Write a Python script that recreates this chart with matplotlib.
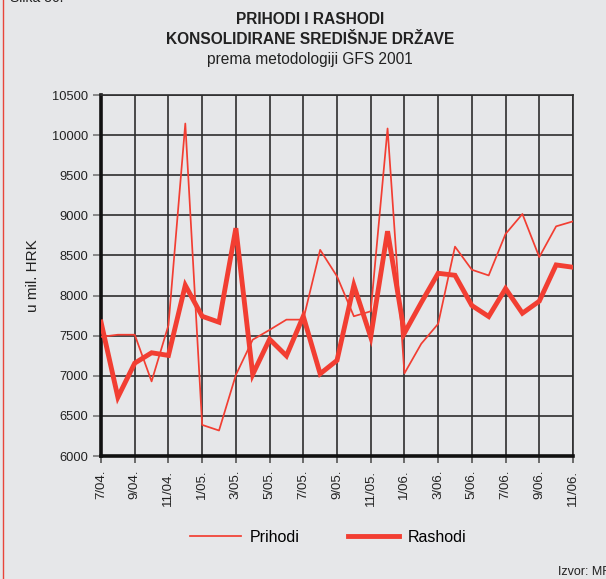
import matplotlib
matplotlib.use("Agg")
import matplotlib.pyplot as plt
from matplotlib.lines import Line2D

plt.rcParams['font.family'] = ['Liberation Sans', 'DejaVu Sans']

# mjesečni podaci, 7/2004 - 11/2006, u mil. HRK
months = ['7/04.', '8/04.', '9/04.', '10/04.', '11/04.', '12/04.',
          '1/05.', '2/05.', '3/05.', '4/05.', '5/05.', '6/05.',
          '7/05.', '8/05.', '9/05.', '10/05.', '11/05.', '12/05.',
          '1/06.', '2/06.', '3/06.', '4/06.', '5/06.', '6/06.',
          '7/06.', '8/06.', '9/06.', '10/06.', '11/06.']
prihodi = [7485, 7512, 7512, 6930, 7630, 10145, 6388, 6318, 7010, 7450,
           7572, 7700, 7700, 8570, 8240, 7742, 7804, 10083, 7030, 7400,
           7647, 8610, 8322, 8251, 8768, 9017, 8480, 8863, 8925]
rashodi = [7670, 6733, 7158, 7287, 7254, 8128, 7742, 7668, 8840, 7017,
           7456, 7249, 7742, 7025, 7192, 8128, 7483, 8802, 7533, 7913,
           8278, 8253, 7876, 7739, 8087, 7780, 7930, 8382, 8353]

red = '#f23e32'
bg = '#e6e7e9'

fig = plt.figure(figsize=(6.06, 5.79), dpi=100, facecolor=bg)
ax = fig.add_axes([0.1667, 0.2124, 0.7788, 0.6235], facecolor=bg)

x = list(range(len(months)))
ax.plot(x, prihodi, color=red, lw=1.25, label='Prihodi', zorder=3)
ax.plot(x, rashodi, color=red, lw=3.5, label='Rashodi', zorder=4,
        solid_joinstyle='miter')

ax.set_xlim(0, len(months) - 1)
ax.set_ylim(6000, 10500)
ax.set_yticks(range(6000, 10501, 500))
ax.set_xticks(x[::2])
ax.set_xticklabels(months[::2], rotation=90, fontsize=9.5, color='#222222')
ax.tick_params(axis='y', labelsize=9.3, labelcolor='#222222', length=6,
               width=1.2, color='#777777', pad=3)
ax.tick_params(axis='x', length=5, width=1.2, color='#555555', pad=5)

ax.grid(True, color='#2e2e2e', lw=1.2, zorder=1)
for s in ['top', 'right']:
    ax.spines[s].set_color('#2e2e2e')
    ax.spines[s].set_linewidth(1.2)
for s in ['left', 'bottom']:
    ax.spines[s].set_color('#111111')
    ax.spines[s].set_linewidth(2.6)

ax.set_ylabel('u mil. HRK', fontsize=11, color='#222222', labelpad=9)

fig.text(0.512, 0.9655, 'PRIHODI I RASHODI', ha='center', va='center',
         fontsize=11.2, fontweight='bold', color='#222222')
fig.text(0.512, 0.931, 'KONSOLIDIRANE SREDIŠNJE DRŽAVE', ha='center',
         va='center', fontsize=11.2, fontweight='bold', color='#222222')
fig.text(0.512, 0.897, 'prema metodologiji GFS 2001', ha='center',
         va='center', fontsize=11.2, color='#222222')
fig.text(0.016, 1.003, 'Slika 36.', ha='left', va='center', fontsize=10,
         color='#222222')
fig.text(0.921, 0.012, 'Izvor: MF', ha='left', va='center', fontsize=9,
         color='#222222')

fig.add_artist(Line2D([0.0055, 0.0055], [0, 1], color='#e8453a', lw=1.0,
                      transform=fig.transFigure))

fig.legend(loc='center', bbox_to_anchor=(0.542, 0.072), ncol=2, frameon=False,
           fontsize=11.5, handlelength=3.2, columnspacing=3.0,
           handletextpad=0.55)

fig.savefig('out.png', dpi=100, facecolor=bg)
